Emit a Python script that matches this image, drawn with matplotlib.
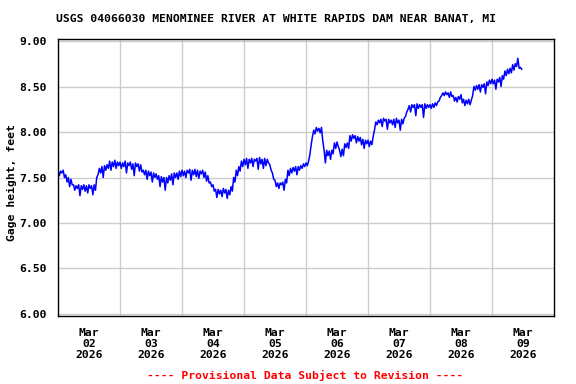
import matplotlib
matplotlib.use("Agg")
import matplotlib.pyplot as plt
import numpy as np
import pandas as pd

title = "USGS 04066030 MENOMINEE RIVER AT WHITE RAPIDS DAM NEAR BANAT, MI"
ylabel = "Gage height, feet"
footnote = "---- Provisional Data Subject to Revision ----"
start_time = "2026-03-02 00:00"

# gage height readings on the hour (feet), starting Mar 02 00:00
gage_on_hour = [
    # Mar 02
    7.58, 7.57, 7.58, 7.53, 7.50, 7.48, 7.42, 7.41, 7.42, 7.41, 7.42, 7.41,
    7.42, 7.41, 7.42, 7.50, 7.60, 7.62, 7.63, 7.64, 7.68, 7.67, 7.69, 7.67,
    # Mar 03
    7.67, 7.66, 7.68, 7.66, 7.67, 7.65, 7.66, 7.65, 7.64, 7.58, 7.58, 7.57,
    7.56, 7.55, 7.54, 7.52, 7.51, 7.50, 7.50, 7.52, 7.54, 7.55, 7.55, 7.57,
    # Mar 04
    7.58, 7.57, 7.58, 7.59, 7.58, 7.59, 7.58, 7.57, 7.58, 7.56, 7.52, 7.45,
    7.42, 7.37, 7.37, 7.36, 7.38, 7.37, 7.36, 7.40, 7.50, 7.58, 7.62, 7.68,
    # Mar 05
    7.70, 7.71, 7.70, 7.71, 7.70, 7.71, 7.72, 7.70, 7.71, 7.70, 7.64, 7.55,
    7.47, 7.44, 7.44, 7.45, 7.48, 7.58, 7.60, 7.61, 7.62, 7.62, 7.63, 7.65,
    # Mar 06
    7.66, 7.68, 7.86, 8.02, 8.05, 8.04, 8.05, 7.80, 7.80, 7.79, 7.80, 7.88,
    7.89, 7.80, 7.81, 7.87, 7.88, 7.96, 7.97, 7.96, 7.95, 7.94, 7.92, 7.91,
    # Mar 07
    7.91, 7.90, 7.95, 8.11, 8.13, 8.14, 8.15, 8.14, 8.14, 8.13, 8.14, 8.15,
    8.13, 8.14, 8.15, 8.22, 8.29, 8.30, 8.30, 8.31, 8.30, 8.30, 8.31, 8.30,
    # Mar 08
    8.30, 8.31, 8.32, 8.33, 8.38, 8.43, 8.44, 8.43, 8.44, 8.40, 8.38, 8.39,
    8.41, 8.36, 8.35, 8.36, 8.35, 8.50, 8.51, 8.52, 8.52, 8.53, 8.55, 8.57,
    # Mar 09
    8.58, 8.57, 8.58, 8.60, 8.62, 8.67, 8.69, 8.70, 8.74, 8.75, 8.81, 8.71,
]

# gage height readings on the half hour (feet), starting Mar 02 00:30
gage_half_hour = [
    # Mar 02
    7.52, 7.55, 7.50, 7.45, 7.40, 7.42, 7.36, 7.38, 7.30, 7.37, 7.35, 7.33,
    7.38, 7.31, 7.36, 7.53, 7.55, 7.50, 7.58, 7.60, 7.58, 7.62, 7.60, 7.63,
    # Mar 03
    7.60, 7.62, 7.55, 7.63, 7.59, 7.52, 7.62, 7.57, 7.56, 7.53, 7.48, 7.52,
    7.45, 7.50, 7.48, 7.40, 7.45, 7.36, 7.44, 7.47, 7.42, 7.50, 7.48, 7.51,
    # Mar 04
    7.52, 7.50, 7.55, 7.47, 7.53, 7.51, 7.49, 7.54, 7.50, 7.46, 7.44, 7.40,
    7.35, 7.28, 7.32, 7.29, 7.33, 7.27, 7.31, 7.35, 7.45, 7.52, 7.57, 7.62,
    # Mar 05
    7.64, 7.60, 7.66, 7.62, 7.68, 7.59, 7.65, 7.60, 7.63, 7.66, 7.58, 7.48,
    7.40, 7.38, 7.42, 7.36, 7.44, 7.52, 7.55, 7.57, 7.53, 7.58, 7.60, 7.62,
    # Mar 06
    7.63, 7.75, 7.95, 7.98, 8.01, 7.99, 7.90, 7.66, 7.74, 7.70, 7.76, 7.82,
    7.84, 7.73, 7.74, 7.83, 7.82, 7.90, 7.93, 7.88, 7.90, 7.86, 7.82, 7.87,
    # Mar 07
    7.84, 7.86, 8.02, 8.08, 8.10, 8.06, 8.12, 8.03, 8.10, 8.08, 8.05, 8.10,
    8.02, 8.09, 8.17, 8.25, 8.22, 8.27, 8.18, 8.26, 8.27, 8.16, 8.26, 8.27,
    # Mar 08
    8.26, 8.27, 8.29, 8.34, 8.40, 8.40, 8.41, 8.38, 8.39, 8.34, 8.33, 8.36,
    8.32, 8.29, 8.31, 8.30, 8.40, 8.46, 8.47, 8.44, 8.49, 8.42, 8.51, 8.53,
    # Mar 09
    8.53, 8.47, 8.55, 8.50, 8.58, 8.62, 8.64, 8.65, 8.68, 8.72, 8.70, 8.69,
]

y_ticks = [6.00, 6.50, 7.00, 7.50, 8.00, 8.50, 9.00]
day_labels = ["Mar\n02\n2026", "Mar\n03\n2026", "Mar\n04\n2026", "Mar\n05\n2026",
              "Mar\n06\n2026", "Mar\n07\n2026", "Mar\n08\n2026", "Mar\n09\n2026"]

t_hour = pd.date_range(start_time, periods=len(gage_on_hour), freq="h")
t_half = t_hour + pd.Timedelta(minutes=30)
series = pd.concat([pd.Series(gage_on_hour, index=t_hour),
                    pd.Series(gage_half_hour, index=t_half)]).sort_index()

W, H = 576, 384
fig = plt.figure(figsize=(W / 100, H / 100), dpi=100)
ax = fig.add_axes([58 / W, 1 - 316 / H, (554 - 58) / W, (316 - 39) / H])

font = dict(family="DejaVu Sans Mono", weight="bold", size=8.2)

ax.plot(series.index, series.values, color="#0000FF", lw=1.1)

x0 = pd.Timestamp("2026-03-02")
x1 = pd.Timestamp("2026-03-10")
ax.set_xlim(x0, x1)
ax.set_ylim(5.978, 9.022)

ax.set_yticks(y_ticks)
ax.set_yticklabels([f"{v:.2f}" for v in y_ticks], **font)

major = pd.date_range("2026-03-03", "2026-03-09", freq="D")
ax.set_xticks(major)
ax.set_xticklabels([""] * len(major))
minor = pd.date_range("2026-03-02 12:00", periods=8, freq="D")
ax.set_xticks(minor, minor=True)
ax.set_xticklabels(day_labels, minor=True, linespacing=1.1, **font)

ax.tick_params(axis="both", which="both", length=0)
ax.tick_params(axis="y", pad=8)
ax.tick_params(axis="x", which="minor", pad=9)

ax.grid(True, which="major", color="#CCCCCC", lw=1.0)
ax.set_axisbelow(True)
for s in ax.spines.values():
    s.set_color("black")
    s.set_linewidth(1.0)

fig.text(276.5 / W, 1 - 19 / H, title, ha="center", va="center", **font)
fig.text(12 / W, 1 - 183 / H, ylabel, ha="center", va="center", rotation=90, **font)
fig.text(305.5 / W, 1 - 375 / H, footnote, ha="center", va="center", color="#FF0000", **font)

fig.savefig("out.png", dpi=100)
